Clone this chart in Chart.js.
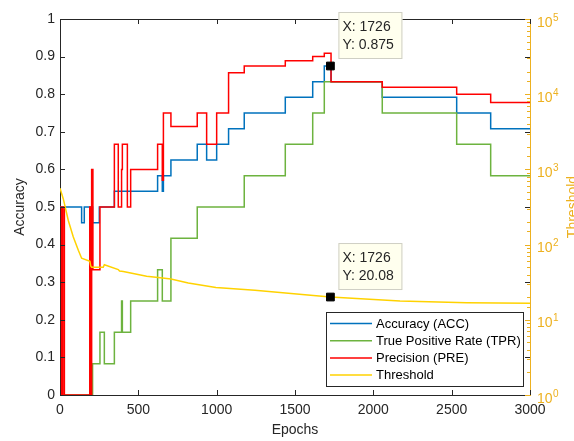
<!DOCTYPE html>
<html>
<head>
<meta charset="utf-8">
<script src="https://cdn.jsdelivr.net/npm/chart.js@4.4.0/dist/chart.umd.min.js"></script>
<style>
  body { margin: 0; background: #fff; }
  canvas { display: block; }
</style>
</head>
<body>
<canvas id="chart" width="574" height="441"></canvas>
<script>
// step series: epoch where the value changes, and the value from there on
const accEpochs = [0, 138, 155, 208, 251, 347, 623, 653, 660, 708, 876, 936, 1000, 1076, 1176, 1438, 1613, 1687, 1730, 2057, 2532, 2749, 3000];
const accValues = [0.5, 0.4583, 0.5, 0.4583, 0.5, 0.5417, 0.5833, 0.5417, 0.5833, 0.625, 0.6667, 0.625, 0.6667, 0.7083, 0.75, 0.7917, 0.8333, 0.875, 0.8333, 0.7917, 0.75, 0.7083, 0.7083];

const tprEpochs = [0, 208, 255, 283, 347, 393, 398, 451, 623, 653, 708, 876, 1176, 1438, 1613, 1687, 2057, 2532, 2749, 3000];
const tprValues = [0, 0.0833, 0.1667, 0.0833, 0.1667, 0.25, 0.1667, 0.25, 0.3333, 0.25, 0.4167, 0.5, 0.5833, 0.6667, 0.75, 0.8333, 0.75, 0.6667, 0.5833, 0.5833];

const preEpochs = [0, 10, 18, 28, 190, 196, 202, 210, 255, 347, 372, 393, 398, 430, 451, 623, 653, 660, 708, 876, 936, 1000, 1076, 1176, 1438, 1613, 1687, 1730, 2057, 2532, 2749, 3000];
const preValues = [0.5, 0, 0.5, 0, 0.5, 0, 0.6, 0.3333, 0.5, 0.6667, 0.5, 0.6, 0.6667, 0.5, 0.6, 0.6667, 0.5714, 0.75, 0.7143, 0.75, 0.6667, 0.75, 0.8571, 0.875, 0.8889, 0.9, 0.9091, 0.8333, 0.8182, 0.8, 0.7778, 0.7778];

const thrEpochs = [0, 21, 53, 85, 117, 138, 191, 196, 202, 276, 283, 372, 380, 404, 553, 627, 708, 819, 995, 1244, 1564, 1726, 2170, 2596, 3000];
const thrValues = [560, 405, 209, 126, 84, 66, 60, 52, 50, 50, 54, 46.5, 44.5, 44, 37.9, 36.4, 34.9, 30.9, 26.8, 24.7, 21.6, 20.08, 17.8, 16.9, 16.6];

// data tips
const tipEpoch = 1726;
const tipAcc = 0.875;
const tipThr = 20.08;

const seriesNames = ['Accuracy (ACC)', 'True Positive Rate (TPR)', 'Precision (PRE)', 'Threshold'];
const seriesColors = ['#0072BD', '#6DB33F', '#FF0000', '#FFD200'];

const INK = '#262626';
const ORANGE = '#EDB120';
const FONT = "'Liberation Sans', Arial, Helvetica, sans-serif";

Chart.defaults.font.family = FONT;
Chart.defaults.font.size = 14;
Chart.defaults.color = INK;

function pairs(xs, ys) {
    return xs.map((v, i) => ({x: v, y: ys[i]}));
}

function isDecade(v) {
    const e = Math.log10(v);
    return Math.abs(e - Math.round(e)) < 1e-9;
}

const decor = {
    id: 'decor',
    afterDatasetsDraw(chart) {
        const {ctx, chartArea: a, scales: {x, y, y1}} = chart;
        ctx.save();
        ctx.lineWidth = 1;
        ctx.strokeStyle = INK;
        ctx.beginPath();
        ctx.moveTo(a.left, a.top + 0.5);
        ctx.lineTo(a.right, a.top + 0.5);
        x.ticks.forEach(t => {
            const px = Math.round(x.getPixelForValue(t.value)) + 0.5;
            ctx.moveTo(px, a.bottom);
            ctx.lineTo(px, a.bottom - 5);
            ctx.moveTo(px, a.top);
            ctx.lineTo(px, a.top + 5);
        });
        y.ticks.forEach(t => {
            const py = Math.round(y.getPixelForValue(t.value)) + 0.5;
            ctx.moveTo(a.left, py);
            ctx.lineTo(a.left + 5, py);
            ctx.moveTo(a.right, py);
            ctx.lineTo(a.right - 5, py);
        });
        ctx.stroke();

        ctx.strokeStyle = ORANGE;
        ctx.beginPath();
        y1.ticks.forEach(t => {
            const py = Math.round(y1.getPixelForValue(t.value)) + 0.5;
            const len = isDecade(t.value) ? 5 : 3;
            ctx.moveTo(a.right, py);
            ctx.lineTo(a.right - len, py);
        });
        ctx.stroke();
        ctx.restore();
    },
    afterDraw(chart) {
        const {ctx, chartArea: a, scales: {y1}} = chart;
        ctx.save();

        // right axis labels 10^n
        ctx.fillStyle = ORANGE;
        ctx.textAlign = 'left';
        ctx.textBaseline = 'alphabetic';
        y1.ticks.filter(t => isDecade(t.value)).forEach(t => {
            const py = y1.getPixelForValue(t.value);
            ctx.font = '14px ' + FONT;
            ctx.fillText('10', a.right + 7, py + 7.5);
            const w = ctx.measureText('10').width;
            ctx.font = '10px ' + FONT;
            ctx.fillText(String(Math.round(Math.log10(t.value))), a.right + 7 + w + 0.5, py + 1.5);
        });

        // right axis title
        ctx.save();
        ctx.translate(566, (a.top + a.bottom) / 2);
        ctx.rotate(-Math.PI / 2);
        ctx.font = '14px ' + FONT;
        ctx.textAlign = 'center';
        ctx.textBaseline = 'top';
        ctx.fillText('Threshold', 0, 0);
        ctx.restore();

        // legend
        const lw = 197, lh = 74;
        const lx = a.right - 7 - lw, ly = a.bottom - 9 - lh;
        ctx.fillStyle = '#fff';
        ctx.fillRect(lx, ly, lw, lh);
        ctx.strokeStyle = INK;
        ctx.lineWidth = 1;
        ctx.strokeRect(lx + 0.5, ly + 0.5, lw, lh);
        ctx.font = '13px ' + FONT;
        ctx.textBaseline = 'middle';
        ctx.textAlign = 'left';
        seriesNames.forEach((name, i) => {
            const ry = ly + 11.5 + i * 17.2;
            ctx.strokeStyle = seriesColors[i];
            ctx.lineWidth = 1.5;
            ctx.beginPath();
            ctx.moveTo(lx + 4, ry);
            ctx.lineTo(lx + 46, ry);
            ctx.stroke();
            ctx.fillStyle = '#000';
            ctx.fillText(name, lx + 50, ry + 0.5);
        });

        // data tips
        [[4, tipAcc], [5, tipThr]].forEach(([idx, val]) => {
            const pt = chart.getDatasetMeta(idx).data[0];
            const bx = pt.x + 8, by = pt.y - 54;
            ctx.fillStyle = '#FFFFEE';
            ctx.fillRect(bx, by, 64, 47);
            ctx.strokeStyle = '#CFCFC4';
            ctx.lineWidth = 1;
            ctx.strokeRect(bx + 0.5, by + 0.5, 63, 46);
            ctx.fillStyle = '#262626';
            ctx.font = '14px ' + FONT;
            ctx.textBaseline = 'middle';
            ctx.fillText('X: ' + tipEpoch, bx + 4, by + 15);
            ctx.fillText('Y: ' + val, bx + 4, by + 33);
        });
        ctx.restore();
    }
};

const ctx = document.getElementById('chart').getContext('2d');

new Chart(ctx, {
    type: 'line',
    data: {
        datasets: [{
            label: seriesNames[0],
            data: pairs(accEpochs, accValues),
            borderColor: seriesColors[0],
            borderWidth: 1.5,
            stepped: 'before',
            pointRadius: 0,
            yAxisID: 'y',
            order: 4
        }, {
            label: seriesNames[1],
            data: pairs(tprEpochs, tprValues),
            borderColor: seriesColors[1],
            borderWidth: 1.5,
            stepped: 'before',
            pointRadius: 0,
            yAxisID: 'y',
            order: 3
        }, {
            label: seriesNames[2],
            data: pairs(preEpochs, preValues),
            borderColor: seriesColors[2],
            borderWidth: 1.5,
            stepped: 'before',
            pointRadius: 0,
            yAxisID: 'y',
            order: 2
        }, {
            label: seriesNames[3],
            data: pairs(thrEpochs, thrValues),
            borderColor: seriesColors[3],
            borderWidth: 1.5,
            pointRadius: 0,
            yAxisID: 'y1',
            order: 1
        }, {
            label: 'tip acc',
            data: [{x: tipEpoch, y: tipAcc}],
            showLine: false,
            pointStyle: 'rect',
            pointRadius: 5.5,
            backgroundColor: '#000',
            borderColor: '#000',
            yAxisID: 'y',
            order: 0
        }, {
            label: 'tip thr',
            data: [{x: tipEpoch, y: tipThr}],
            showLine: false,
            pointStyle: 'rect',
            pointRadius: 5.5,
            backgroundColor: '#000',
            borderColor: '#000',
            yAxisID: 'y1',
            order: 0
        }]
    },
    options: {
        responsive: false,
        animation: false,
        devicePixelRatio: 1,
        layout: {padding: {top: 19, left: 0, right: 0, bottom: 0}},
        plugins: {
            legend: {display: false},
            tooltip: {enabled: false}
        },
        scales: {
            x: {
                type: 'linear',
                min: 0,
                max: 3000,
                ticks: {stepSize: 500, padding: 7, maxRotation: 0, callback: v => String(v)},
                grid: {display: false, drawTicks: false},
                border: {color: INK},
                title: {display: true, text: 'Epochs', padding: {top: 0, bottom: 2}},
                afterFit: s => { s.height = 46; }
            },
            y: {
                min: 0,
                max: 1,
                ticks: {stepSize: 0.1, padding: 5, callback: v => String(+v.toFixed(1))},
                grid: {display: false, drawTicks: false},
                border: {color: INK},
                title: {display: true, text: 'Accuracy', padding: {top: 12, bottom: 0}},
                afterFit: s => { s.width = 60; }
            },
            y1: {
                type: 'logarithmic',
                position: 'right',
                min: 1,
                max: 100000,
                ticks: {display: false, autoSkip: false},
                grid: {display: false, drawTicks: false},
                border: {color: ORANGE},
                afterFit: s => { s.width = 44; }
            }
        }
    },
    plugins: [decor]
});
</script>
</body>
</html>
